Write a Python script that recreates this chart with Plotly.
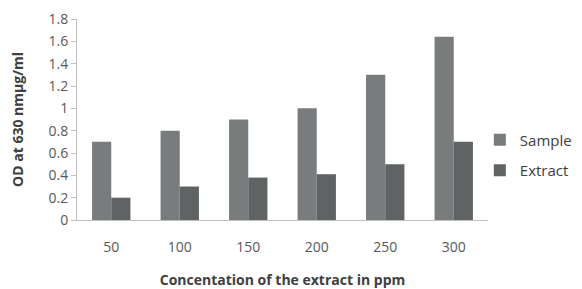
import plotly.graph_objects as go

categories = ["50", "100", "150", "200", "250", "300"]
sample = [0.70, 0.80, 0.90, 1.00, 1.30, 1.64]
extract = [0.20, 0.30, 0.38, 0.41, 0.50, 0.70]
y_ticks = [0, 0.2, 0.4, 0.6, 0.8, 1, 1.2, 1.4, 1.6, 1.8]
y_tick_labels = ["0", "0.2", "0.4", "0.6", "0.8", "1", "1.2", "1.4", "1.6", "1.8"]

FONT = "Open Sans"

fig = go.Figure()
fig.add_trace(go.Bar(x=categories, y=sample, name="Sample", legendgroup="s",
                     marker=dict(color="#797c7d", line=dict(width=0))))
fig.add_trace(go.Bar(x=categories, y=extract, name="Extract", legendgroup="e",
                     marker=dict(color="#606364", line=dict(width=0))))

# page body has an 8px margin, so the figure is drawn 8px in from the top-left
fig.update_layout(
    width=574, height=281,
    margin=dict(l=69, r=94, t=11, b=69, autoexpand=False),
    paper_bgcolor="white", plot_bgcolor="white",
    barmode="group", bargap=0.44, bargroupgap=0,
    font=dict(family=FONT, color="#595959", size=13),
    legend=dict(xref="container", yref="container",
                x=0.822, y=0.477, xanchor="left", yanchor="middle",
                font=dict(size=15, color="#404040"), itemwidth=30,
                tracegroupgap=8, bgcolor="rgba(0,0,0,0)"),
    xaxis=dict(
        automargin=False,
        showline=True, linecolor="#bfbfbf", linewidth=1,
        ticks="", tickfont=dict(size=14, color="#595959"),
        ticklabelstandoff=14,
        title=dict(text="<b>Concentation of the extract in ppm</b>",
                   font=dict(size=14, color="#404040"), standoff=21),
        showgrid=False,
    ),
    yaxis=dict(
        automargin=False,
        range=[0, 1.8], tickvals=y_ticks, ticktext=y_tick_labels,
        showline=True, linecolor="#bfbfbf", linewidth=1,
        ticks="outside", ticklen=5, tickcolor="#bfbfbf",
        tickfont=dict(size=14, color="#595959"),
        showgrid=False, zeroline=False,
        title=dict(text="<b>OD at 630 nmµg/ml</b>",
                   font=dict(size=14, color="#404040"), standoff=34),
    ),
)

fig.write_html("out.html")
